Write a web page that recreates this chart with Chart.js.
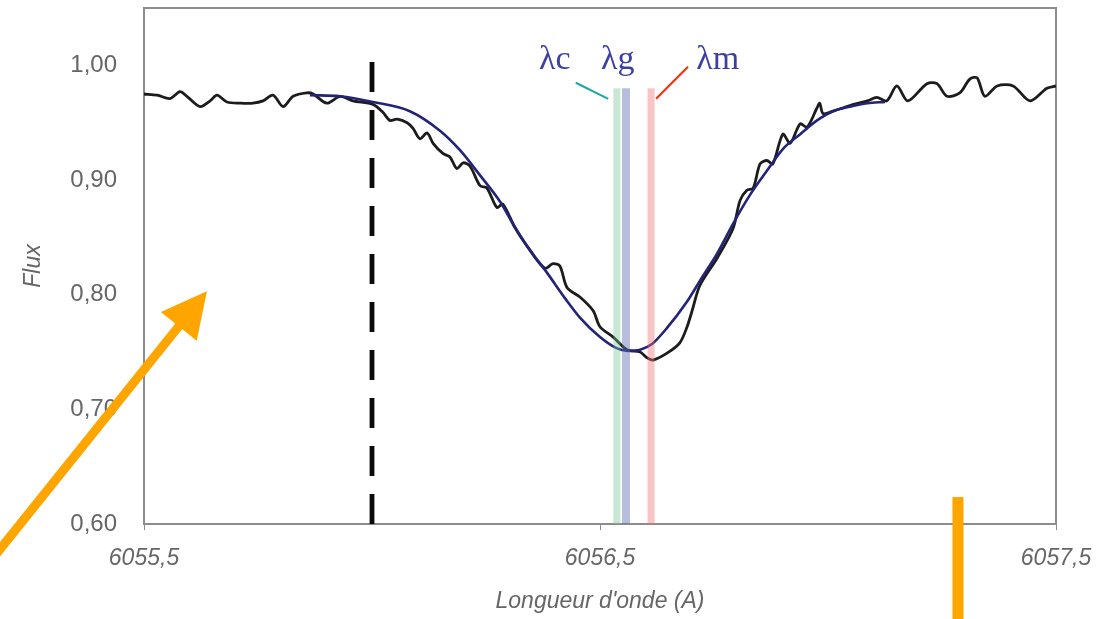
<!DOCTYPE html>
<html>
<head>
<meta charset="utf-8">
<title>Profil de raie</title>
<script src="https://cdn.jsdelivr.net/npm/chart.js@4.4.1/dist/chart.umd.min.js"></script>
<style>
  html, body { margin: 0; padding: 0; background: #fff; }
  #spectre { display: block; }
</style>
</head>
<body>
<canvas id="spectre" width="1116" height="619"></canvas>
<script>
// spectre observé (longueur d'onde en A, flux normalisé)
const wavelength = [
  6055.500, 6055.529, 6055.557, 6055.579, 6055.594, 6055.623, 6055.645, 6055.660, 6055.682, 6055.711,
  6055.739, 6055.761, 6055.783, 6055.805, 6055.827, 6055.857, 6055.871, 6055.901, 6055.930, 6055.958,
  6056.002, 6056.024, 6056.039, 6056.055, 6056.077, 6056.090, 6056.105, 6056.121, 6056.134, 6056.156,
  6056.171, 6056.186, 6056.200, 6056.215, 6056.237, 6056.252, 6056.274, 6056.287, 6056.314, 6056.346,
  6056.379, 6056.397, 6056.412, 6056.428, 6056.456, 6056.485, 6056.500, 6056.529, 6056.559, 6056.588,
  6056.603, 6056.616, 6056.647, 6056.675, 6056.691, 6056.702, 6056.719, 6056.757, 6056.792, 6056.807,
  6056.822, 6056.836, 6056.851, 6056.866, 6056.879, 6056.901, 6056.917, 6056.939, 6056.954, 6056.976,
  6056.982, 6056.989, 6057.011, 6057.048, 6057.086, 6057.107, 6057.129, 6057.151, 6057.175, 6057.217,
  6057.239, 6057.261, 6057.289, 6057.311, 6057.327, 6057.344, 6057.371, 6057.406, 6057.443, 6057.480,
  6057.500
];
const flux = [
  0.975, 0.974, 0.971, 0.977, 0.973, 0.964, 0.969, 0.974, 0.968, 0.967,
  0.967, 0.969, 0.974, 0.964, 0.973, 0.976, 0.975, 0.967, 0.973, 0.969,
  0.966, 0.959, 0.952, 0.953, 0.950, 0.945, 0.936, 0.941, 0.932, 0.923,
  0.920, 0.910, 0.915, 0.912, 0.895, 0.893, 0.876, 0.879, 0.858, 0.839,
  0.823, 0.827, 0.825, 0.806, 0.798, 0.786, 0.772, 0.763, 0.752, 0.750,
  0.745, 0.743, 0.749, 0.758, 0.772, 0.786, 0.808, 0.832, 0.858, 0.882,
  0.891, 0.893, 0.914, 0.917, 0.914, 0.940, 0.932, 0.949, 0.946, 0.963,
  0.967, 0.958, 0.960, 0.965, 0.969, 0.972, 0.969, 0.982, 0.969, 0.984,
  0.984, 0.973, 0.976, 0.988, 0.989, 0.973, 0.982, 0.982, 0.969, 0.980,
  0.982
];

// profil ajusté
const fitWavelength = [
  6055.864, 6055.930, 6056.002, 6056.083, 6056.149, 6056.193, 6056.237, 6056.281, 6056.309, 6056.346,
  6056.384, 6056.423, 6056.456, 6056.500, 6056.533, 6056.561, 6056.588, 6056.614, 6056.647, 6056.691,
  6056.719, 6056.757, 6056.792, 6056.829, 6056.866, 6056.901, 6056.939, 6056.976, 6057.011, 6057.048,
  6057.086, 6057.125
];
const fitFlux = [
  0.974, 0.973, 0.968, 0.960, 0.943, 0.926, 0.904, 0.881, 0.862, 0.839,
  0.819, 0.797, 0.780, 0.763, 0.754, 0.751, 0.752, 0.757, 0.771, 0.794,
  0.812, 0.836, 0.862, 0.887, 0.908, 0.927, 0.940, 0.952, 0.960, 0.964,
  0.967, 0.968
];

// centres de la raie : λc, λg, λm
const centerNames = ['λc', 'λg', 'λm'];
const centerValues = [6056.537, 6056.557, 6056.612];
const centerTop = 0.98;

// limite du domaine (trait pointillé)
const limitWavelength = 6056.0;
const limitTop = 1.003;

const xTicks = [6055.5, 6056.5, 6057.5];
const yTicks = [0.60, 0.70, 0.80, 0.90, 1.00];

const bandColors = ['rgba(120, 195, 150, 0.40)', 'rgba(95, 110, 180, 0.45)', 'rgba(240, 115, 115, 0.42)'];
const bandWidths = [7, 8, 7];

const grey = '#666';
const axisFont = { family: 'Liberation Sans', size: 23 };
const comma = (v, d) => v.toFixed(d).replace('.', ',');

// cadre, étiquettes λ et flèches
const decorations = {
  id: 'decorations',
  beforeDatasetsDraw(chart) {
    const { ctx, chartArea: a } = chart;
    ctx.save();
    ctx.strokeStyle = '#8c8c8c';
    ctx.lineWidth = 2;
    ctx.strokeRect(a.left, a.top, a.right - a.left, a.bottom - a.top);
    ctx.restore();
  },
  afterDraw(chart) {
    const { ctx } = chart;
    const px = v => chart.scales.x.getPixelForValue(v);
    const py = v => chart.scales.y.getPixelForValue(v);
    ctx.save();

    // noms des centres
    const labelX = [6056.366, 6056.502, 6056.711];
    ctx.font = '34px "Liberation Serif"';
    ctx.fillStyle = '#3b3fa6';
    ctx.textAlign = 'left';
    ctx.textBaseline = 'alphabetic';
    centerNames.forEach((name, i) => ctx.fillText(name, px(labelX[i]), py(0.997)));

    // traits de rappel
    ctx.lineWidth = 2;
    ctx.strokeStyle = '#1aa8a8';
    ctx.beginPath();
    ctx.moveTo(px(6056.447), py(0.9848));
    ctx.lineTo(px(6056.518), py(0.9708));
    ctx.stroke();
    ctx.strokeStyle = '#ff2a00';
    ctx.beginPath();
    ctx.moveTo(px(6056.693), py(0.9987));
    ctx.lineTo(px(6056.623), py(0.9708));
    ctx.stroke();

    // flèche orange
    ctx.fillStyle = '#ffa500';
    ctx.strokeStyle = '#ffa500';
    const tip = { x: px(6055.638), y: py(0.803) };
    const tail = { x: px(6055.160), y: py(0.566) };
    const len = Math.hypot(tip.x - tail.x, tip.y - tail.y);
    const ux = (tip.x - tail.x) / len, uy = (tip.y - tail.y) / len;
    const head = 45, half = 23;
    const bx = tip.x - ux * head, by = tip.y - uy * head;
    ctx.lineWidth = 9;
    ctx.beginPath();
    ctx.moveTo(tail.x, tail.y);
    ctx.lineTo(bx + ux * 2, by + uy * 2);
    ctx.stroke();
    ctx.beginPath();
    ctx.moveTo(tip.x, tip.y);
    ctx.lineTo(bx - uy * half, by + ux * half);
    ctx.lineTo(bx + uy * half, by - ux * half);
    ctx.closePath();
    ctx.fill();

    // barre orange
    const barX = px(6057.285);
    const barTop = py(0.6235);
    ctx.fillRect(barX - 5.5, barTop, 11, chart.height - barTop);

    ctx.restore();
  }
};

const datasets = [];
centerValues.forEach((v, i) => {
  datasets.push({
    label: centerNames[i],
    data: [{ x: v, y: 0.6 }, { x: v, y: centerTop }],
    borderColor: bandColors[i],
    borderWidth: bandWidths[i],
    pointRadius: 0,
    order: 0
  });
});
datasets.push({
  label: 'ajustement',
  data: fitWavelength.map((w, i) => ({ x: w, y: fitFlux[i] })),
  borderColor: '#232378',
  borderWidth: 2.6,
  pointRadius: 0,
  cubicInterpolationMode: 'monotone',
  order: 1
});
datasets.push({
  label: 'spectre',
  data: wavelength.map((w, i) => ({ x: w, y: flux[i] })),
  borderColor: '#1c1c1c',
  borderWidth: 2.8,
  pointRadius: 0,
  tension: 0.3,
  order: 2
});
datasets.push({
  label: 'limite',
  data: [{ x: limitWavelength, y: limitTop }, { x: limitWavelength, y: 0.6 }],
  borderColor: '#0a0a0a',
  borderWidth: 4.8,
  borderDash: [30, 18],
  pointRadius: 0,
  order: 3
});

new Chart(document.getElementById('spectre'), {
  type: 'line',
  data: { datasets: datasets },
  options: {
    responsive: false,
    animation: false,
    events: [],
    layout: { padding: { top: 8, right: 60, left: 0, bottom: 0 } },
    plugins: {
      legend: { display: false },
      tooltip: { enabled: false }
    },
    scales: {
      x: {
        type: 'linear',
        min: 6055.5,
        max: 6057.5,
        afterBuildTicks: s => { s.ticks = xTicks.map(v => ({ value: v })); },
        afterFit: s => { s.height = 95; },
        grid: { drawOnChartArea: false, tickLength: 6, color: '#8c8c8c' },
        border: { display: false },
        ticks: {
          autoSkip: false,
          maxRotation: 0,
          padding: 15,
          color: grey,
          font: Object.assign({}, axisFont, { style: 'italic' }),
          callback: v => comma(v, 1)
        },
        title: {
          display: true,
          text: "Longueur d'onde (A)",
          color: grey,
          font: Object.assign({}, axisFont, { style: 'italic' }),
          padding: { top: 0, bottom: 4 }
        }
      },
      y: {
        min: 0.6,
        max: 1.05,
        afterBuildTicks: s => { s.ticks = yTicks.map(v => ({ value: v })); },
        afterFit: s => {
          s.width = 144;
          // les étiquettes ne débordent pas du cadre : pas de marge verticale
          s.paddingTop = 0;
          s.paddingBottom = 0;
        },
        grid: { display: false, drawTicks: false },
        border: { display: false },
        ticks: {
          padding: 27,
          color: grey,
          font: Object.assign({}, axisFont, { size: 24 }),
          callback: v => comma(v, 2)
        },
        title: {
          display: true,
          text: 'Flux',
          color: grey,
          font: Object.assign({}, axisFont, { style: 'italic' }),
          padding: { top: 20, bottom: 0 }
        }
      }
    }
  },
  plugins: [decorations]
});
</script>
</body>
</html>
